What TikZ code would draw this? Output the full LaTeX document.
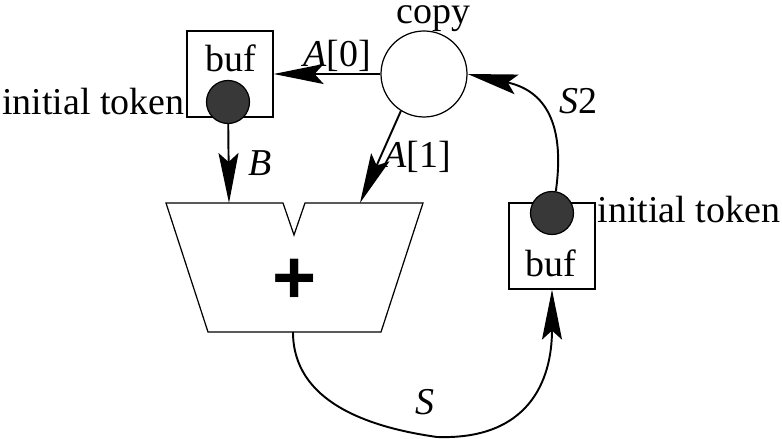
\documentclass[tikz,border=0pt]{standalone}
\usepackage{fontspec}
\setmainfont{Liberation Serif}
\newfontfamily\plusfont{Liberation Sans}
\usetikzlibrary{arrows.meta,positioning}

\begin{document}
\begin{tikzpicture}[
    font=\fontsize{21.6}{26}\selectfont,
    line width=0.7pt,
    arr/.style={-{Stealth[length=1cm,width=0.4cm,inset=0.18cm]}, line width=1.1pt},
    bufbox/.style={shape=rectangle, draw=black, minimum size=1.72cm, inner sep=0pt},
    token/.style={shape=circle, draw=black, fill=black!78, minimum size=0.86cm, inner sep=0pt},
    lbl/.style={inner sep=1pt}
]
    \useasboundingbox (0,0) rectangle (15.64,8.78);
    % adder
    \draw (3.32,4.72) -- (5.66,4.72) -- (5.88,4.08) -- (6.10,4.72) -- (8.46,4.72) -- (7.62,2.14) -- (4.16,2.14) -- cycle;
    \coordinate (addB) at (4.58,4.72);
    \coordinate (addA) at (7.20,4.72);
    \coordinate (addS) at (5.86,2.14);
    \node[font=\plusfont\bfseries\fontsize{43}{43}\selectfont, inner sep=0pt] at (5.90,3.15) (plus) {+};

    \node[bufbox] at (4.60,7.30) (buf1) {};
    \node[anchor=base, inner sep=0pt] at (4.62,7.34) (buf1txt) {buf};
    \node[token] at (4.56,6.74) (tok1) {};
    \node[anchor=base east, inner sep=0pt] at (3.70,6.48) (init1) {initial token};

    \node[shape=circle, draw=black, minimum size=1.72cm, inner sep=0pt] at (8.48,7.30) (copy) {};
    \node[anchor=base, inner sep=0pt] at (8.67,8.31) (copytxt) {copy};

    \node[bufbox] at (11.04,3.86) (buf2) {};
    \node[anchor=base, inner sep=0pt] at (11.02,3.24) (buf2txt) {buf};
    \node[token] at (11.04,4.52) (tok2) {};
    \node[anchor=base west, inner sep=0pt] at (11.94,4.32) (init2) {initial token};

    \path [arr] (copy) edge node[lbl, above, xshift=0.2cm] {\textit{A}[0]} (buf1);
    \path [arr] (tok1) edge node[lbl, right=0.34cm] {\textit{B}} (addB);
    \path [arr] (copy.238) edge node[lbl, right] {\textit{A}[1]} (addA);
    \draw [arr] (addS) to[out=-90,in=172] (8.74,0.04) node[lbl, above=0.38cm, xshift=-0.25cm] (Slbl) {\textit{S}}
        to[out=-2,in=-90,looseness=1.25] (buf2);
    \draw [arr] (tok2.80) to[out=82,in=-12,looseness=1.3] node[lbl, pos=0.45, above right, xshift=0.2cm] (S2lbl) {\textit{S}2} (copy.east);
\end{tikzpicture}
\end{document}
